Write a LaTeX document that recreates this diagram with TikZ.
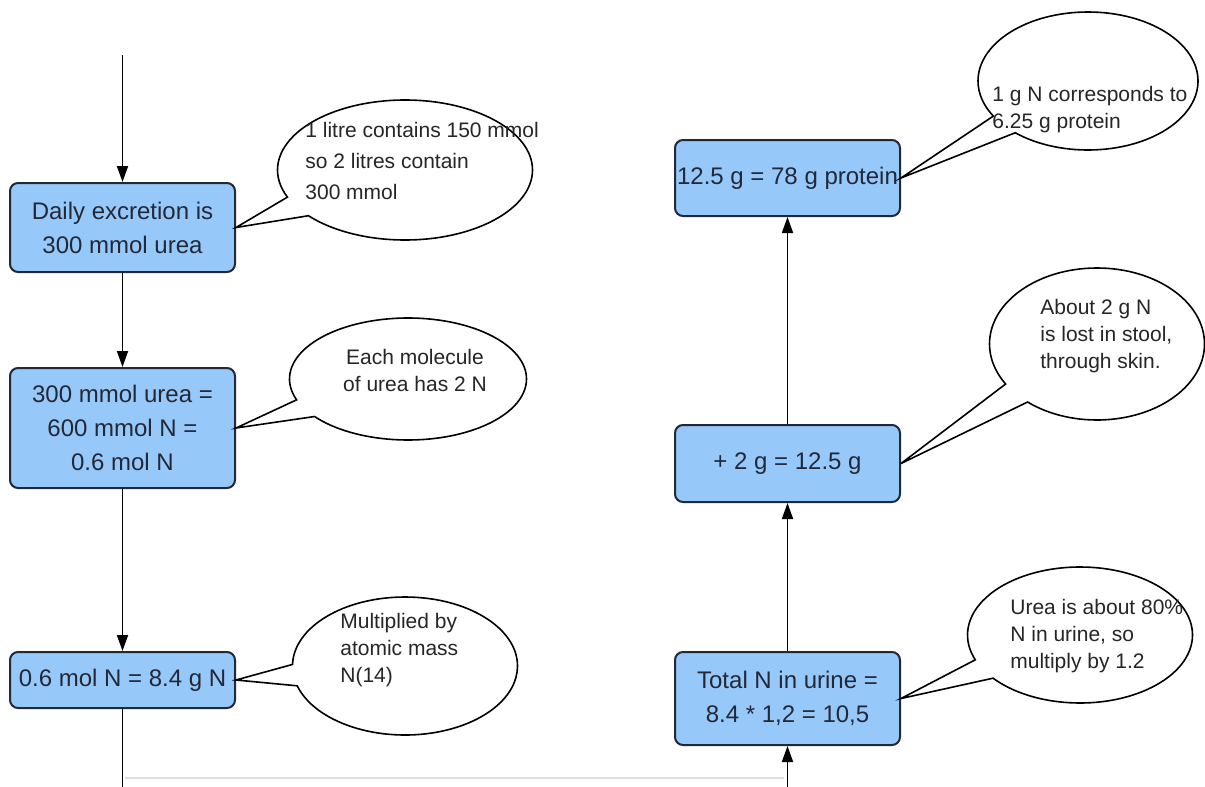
\documentclass[tikz,border=0pt]{standalone}
\usepackage{fontspec}
\setmainfont{Liberation Sans}
\usetikzlibrary{arrows.meta,positioning,shapes.callouts}
\definecolor{stepblue}{RGB}{150,200,250}
\definecolor{stepedge}{RGB}{35,40,55}

\begin{document}
\begin{tikzpicture}[
    x=0.5pt, y=-0.5pt,
    calc/.style={rectangle, rounded corners=4pt, draw=stepedge, fill=stepblue,
                 line width=1pt, minimum width=112.5pt, inner sep=0pt,
                 align=center, text=stepedge, font=\fontsize{12}{17}\selectfont},
    bubble/.style={ellipse callout, draw=black, fill=white, line width=0.8pt,
                   inner sep=0pt, callout pointer arc=18},
    note/.style={inner sep=0pt, align=left, text=black!85, font=\fontsize{10.5}{13.5}\selectfont},
    flow/.style={-{Triangle[length=8pt,width=5.5pt]}, line width=0.9pt}
]
\useasboundingbox (0,0) rectangle (1205,787);

% left column
\node[calc, minimum height=44.5pt] (b1) at (122.5,227.5) {Daily excretion is\\300 mmol urea};
\node[calc, minimum height=60pt]   (b2) at (122.5,428)   {300 mmol urea =\\600 mmol N =\\0.6 mol N};
\node[calc, minimum height=28pt]   (b3) at (122.5,680)   {0.6 mol N = 8.4 g N};

% right column
\node[calc, minimum height=38pt]   (r1) at (787.5,178)   {12.5 g = 78 g protein};
\node[calc, minimum height=38.5pt] (r2) at (787.5,463.5) {+ 2 g = 12.5 g};
\node[calc, minimum height=46.5pt] (r3) at (787.5,698.5) {Total N in urine =\\8.4 * 1,2 = 10,5};

\coordinate (ltop) at (122.5,55);
\coordinate (lend) at (122.5,787);
\coordinate (rend) at (787.5,787);
\coordinate (lbase) at (125,778);
\coordinate (rbase) at (784,778);

\draw[flow] (ltop) -- (b1);
\draw[flow] (b1) -- (b2);
\draw[flow] (b2) -- (b3);
\draw[line width=0.9pt] (b3) -- (lend);
\draw[black!12, line width=0.6pt] (lbase) -- (rbase);
\draw[flow] (rend) -- (r3);
\draw[flow] (r3) -- (r2);
\draw[flow] (r2) -- (r1);

% callouts
\node[bubble, minimum width=127.5pt, minimum height=70pt,
      callout absolute pointer={(b1.east)}] (c1) at (405,170) {};
\node[note, anchor=west, font=\fontsize{10.5}{15.5}\selectfont] (t1) at (305,161)
    {1 litre contains 150 mmol\\so 2 litres contain\\300 mmol};

\node[bubble, minimum width=118.5pt, minimum height=61pt,
      callout absolute pointer={(b2.east)}] (c2) at (408,379) {};
\node[note, align=center] (t2) at (415,370) {Each molecule\\of urea has 2 N};

\node[bubble, minimum width=112.5pt, minimum height=69pt,
      callout absolute pointer={(b3.east)}] (c3) at (405,666) {};
\node[note, anchor=west] (t3) at (340,650) {Multiplied by\\atomic mass\\N(14)};

\node[bubble, minimum width=110pt, minimum height=69pt,
      callout absolute pointer={(r1.east)}] (d1) at (1088,81) {};
\node[note, anchor=west] (s1) at (992,110) {1 g N corresponds to\\6.25 g protein};

\node[bubble, minimum width=107.5pt, minimum height=76pt,
      callout absolute pointer={(r2.east)}] (d2) at (1097,344) {};
\node[note, anchor=west] (s2) at (1040,336) {About 2 g N\\is lost in stool,\\through skin.};

\node[bubble, minimum width=112.5pt, minimum height=68pt,
      callout absolute pointer={(r3.east)}] (d3) at (1080,635) {};
\node[note, anchor=west] (s3) at (1010,636) {Urea is about 80\%\\N in urine, so\\multiply by 1.2};
\end{tikzpicture}
\end{document}
